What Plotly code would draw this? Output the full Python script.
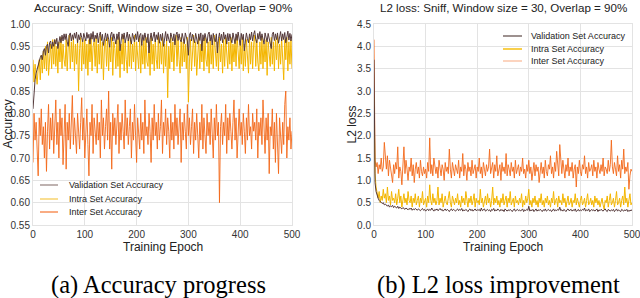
import plotly.graph_objects as go

epochs = list(range(0, 501, 2))

acc_validation = [
    0.81, 0.86, 0.875, 0.89, 0.90, 0.91, 0.915, 0.925, 0.93, 0.92, 0.94,
    0.945, 0.93, 0.95, 0.955, 0.935, 0.958, 0.962, 0.945, 0.96, 0.95,
    0.965, 0.955, 0.968, 0.945, 0.962, 0.972, 0.958, 0.975, 0.962, 0.978,
    0.965, 0.978, 0.96, 0.95, 0.975, 0.98, 0.962, 0.976, 0.965, 0.98,
    0.968, 0.982, 0.958, 0.976, 0.965, 0.98, 0.97, 0.96, 0.979, 0.966,
    0.962, 0.981, 0.968, 0.977, 0.955, 0.979, 0.966, 0.983, 0.96, 0.975,
    0.967, 0.98, 0.958, 0.974, 0.982, 0.963, 0.977, 0.952, 0.972, 0.98,
    0.962, 0.978, 0.966, 0.948, 0.976, 0.982, 0.962, 0.978, 0.966, 0.955,
    0.978, 0.965, 0.982, 0.94, 0.962, 0.978, 0.966, 0.98, 0.958, 0.975,
    0.982, 0.962, 0.977, 0.966, 0.955, 0.979, 0.968, 0.96, 0.978, 0.965,
    0.983, 0.96, 0.975, 0.979, 0.952, 0.976, 0.963, 0.98, 0.967, 0.958,
    0.978, 0.935, 0.966, 0.98, 0.962, 0.977, 0.982, 0.96, 0.976, 0.965,
    0.981, 0.957, 0.977, 0.963, 0.979, 0.95, 0.975, 0.983, 0.962, 0.978,
    0.966, 0.958, 0.98, 0.967, 0.962, 0.978, 0.953, 0.976, 0.982, 0.963,
    0.978, 0.965, 0.96, 0.979, 0.967, 0.956, 0.98, 0.966, 0.962, 0.93,
    0.975, 0.981, 0.962, 0.977, 0.966, 0.958, 0.979, 0.967, 0.955, 0.978,
    0.963, 0.98, 0.94, 0.976, 0.962, 0.979, 0.966, 0.957, 0.977, 0.982,
    0.962, 0.976, 0.953, 0.979, 0.966, 0.96, 0.978, 0.935, 0.967, 0.98,
    0.963, 0.977, 0.958, 0.982, 0.966, 0.976, 0.955, 0.979, 0.962, 0.978,
    0.966, 0.958, 0.98, 0.967, 0.956, 0.978, 0.963, 0.982, 0.968, 0.952,
    0.979, 0.965, 0.977, 0.94, 0.962, 0.98, 0.967, 0.958, 0.978, 0.965,
    0.982, 0.962, 0.977, 0.985, 0.965, 0.958, 0.979, 0.966, 0.983, 0.963,
    0.978, 0.965, 0.955, 0.98, 0.968, 0.96, 0.979, 0.966, 0.958, 0.945,
    0.977, 0.982, 0.963, 0.978, 0.965, 0.98, 0.957, 0.976, 0.983, 0.962,
    0.978, 0.965, 0.981, 0.958, 0.976, 0.984, 0.964, 0.979, 0.962, 0.977,
]

acc_intra = [
    0.92, 0.87, 0.91, 0.885, 0.865, 0.90, 0.92, 0.875, 0.93, 0.89, 0.94,
    0.90, 0.95, 0.895, 0.96, 0.885, 0.94, 0.955, 0.90, 0.965, 0.91,
    0.965, 0.905, 0.95, 0.89, 0.96, 0.915, 0.97, 0.90, 0.955, 0.92,
    0.905, 0.965, 0.895, 0.95, 0.975, 0.90, 0.96, 0.915, 0.97, 0.895,
    0.955, 0.91, 0.965, 0.85, 0.945, 0.97, 0.895, 0.96, 0.91, 0.965,
    0.90, 0.955, 0.885, 0.965, 0.915, 0.97, 0.895, 0.95, 0.96, 0.905,
    0.97, 0.89, 0.955, 0.91, 0.975, 0.90, 0.96, 0.875, 0.95, 0.965,
    0.905, 0.97, 0.895, 0.955, 0.915, 0.97, 0.885, 0.96, 0.945, 0.90,
    0.965, 0.905, 0.97, 0.88, 0.955, 0.91, 0.975, 0.895, 0.96, 0.92,
    0.89, 0.965, 0.905, 0.97, 0.90, 0.955, 0.915, 0.975, 0.895, 0.96,
    0.925, 0.90, 0.97, 0.89, 0.955, 0.91, 0.965, 0.90, 0.97, 0.915,
    0.905, 0.96, 0.885, 0.97, 0.91, 0.955, 0.895, 0.965, 0.92, 0.90,
    0.975, 0.90, 0.96, 0.91, 0.97, 0.89, 0.955, 0.905, 0.965, 0.835,
    0.95, 0.90, 0.97, 0.915, 0.96, 0.895, 0.955, 0.975, 0.905, 0.965,
    0.92, 0.89, 0.97, 0.905, 0.96, 0.915, 0.955, 0.90, 0.97, 0.825,
    0.915, 0.965, 0.895, 0.955, 0.975, 0.905, 0.96, 0.885, 0.95, 0.97,
    0.90, 0.955, 0.915, 0.965, 0.895, 0.97, 0.92, 0.905, 0.96, 0.89,
    0.965, 0.91, 0.955, 0.90, 0.975, 0.92, 0.905, 0.96, 0.895, 0.97,
    0.915, 0.955, 0.89, 0.965, 0.905, 0.97, 0.92, 0.90, 0.96, 0.91,
    0.97, 0.895, 0.955, 0.915, 0.965, 0.905, 0.975, 0.92, 0.90, 0.96,
    0.91, 0.97, 0.895, 0.955, 0.905, 0.965, 0.92, 0.89, 0.97, 0.91,
    0.96, 0.90, 0.955, 0.975, 0.905, 0.965, 0.915, 0.895, 0.96, 0.91,
    0.97, 0.90, 0.955, 0.915, 0.965, 0.885, 0.96, 0.92, 0.905, 0.97,
    0.91, 0.96, 0.895, 0.965, 0.92, 0.975, 0.90, 0.955, 0.91, 0.97,
    0.905, 0.875, 0.965, 0.92, 0.97, 0.895, 0.96, 0.91, 0.965, 0.90,
]

acc_inter = [
    0.69, 0.80, 0.74, 0.78, 0.72, 0.66, 0.79, 0.75, 0.81, 0.73, 0.77,
    0.70, 0.78, 0.67, 0.76, 0.82, 0.72, 0.79, 0.74, 0.80, 0.71,
    0.77, 0.83, 0.73, 0.78, 0.70, 0.81, 0.75, 0.79, 0.685, 0.76,
    0.82, 0.675, 0.78, 0.74, 0.80, 0.72, 0.77, 0.84, 0.73, 0.79,
    0.75, 0.71, 0.80, 0.76, 0.72, 0.78, 0.835, 0.74, 0.79, 0.70,
    0.77, 0.81, 0.73, 0.66, 0.78, 0.75, 0.82, 0.71, 0.79, 0.76,
    0.73, 0.80, 0.74, 0.78, 0.70, 0.83, 0.75, 0.79, 0.72, 0.77,
    0.81, 0.74, 0.85, 0.72, 0.78, 0.675, 0.80, 0.75, 0.79, 0.73,
    0.77, 0.82, 0.71, 0.78, 0.74, 0.80, 0.76, 0.72, 0.83, 0.75,
    0.79, 0.73, 0.77, 0.81, 0.70, 0.78, 0.74, 0.82, 0.75, 0.69,
    0.79, 0.76, 0.72, 0.80, 0.74, 0.78, 0.71, 0.83, 0.75, 0.77,
    0.73, 0.80, 0.76, 0.69, 0.79, 0.74, 0.82, 0.75, 0.78, 0.72,
    0.80, 0.74, 0.77, 0.83, 0.71, 0.78, 0.75, 0.81, 0.73, 0.79,
    0.76, 0.70, 0.80, 0.74, 0.78, 0.72, 0.82, 0.75, 0.79, 0.73,
    0.77, 0.81, 0.69, 0.78, 0.74, 0.80, 0.76, 0.72, 0.82, 0.75,
    0.79, 0.73, 0.77, 0.81, 0.71, 0.78, 0.74, 0.80, 0.75, 0.70,
    0.78, 0.74, 0.82, 0.72, 0.79, 0.76, 0.71, 0.80, 0.75, 0.78,
    0.73, 0.81, 0.76, 0.70, 0.79, 0.74, 0.82, 0.75, 0.78, 0.60,
    0.77, 0.80, 0.73, 0.78, 0.75, 0.82, 0.71, 0.79, 0.74, 0.80,
    0.76, 0.72, 0.78, 0.83, 0.74, 0.79, 0.70, 0.77, 0.81, 0.75,
    0.78, 0.73, 0.80, 0.76, 0.71, 0.79, 0.74, 0.82, 0.75, 0.77,
    0.72, 0.80, 0.76, 0.78, 0.74, 0.81, 0.70, 0.78, 0.75, 0.79,
    0.73, 0.83, 0.76, 0.71, 0.79, 0.74, 0.80, 0.665, 0.77, 0.75,
    0.81, 0.72, 0.78, 0.69, 0.80, 0.74, 0.665, 0.79, 0.75, 0.71,
    0.78, 0.73, 0.82, 0.85, 0.70, 0.77, 0.74, 0.79, 0.72, 0.76,
]

loss_validation = [
    3.70, 0.95, 0.75, 0.65, 0.60, 0.55, 0.52, 0.50, 0.48, 0.50, 0.45,
    0.47, 0.44, 0.42, 0.45, 0.40, 0.43, 0.41, 0.44, 0.39, 0.42,
    0.40, 0.38, 0.42, 0.37, 0.40, 0.38, 0.36, 0.39, 0.37, 0.35,
    0.38, 0.36, 0.34, 0.37, 0.35, 0.38, 0.33, 0.36, 0.34, 0.37,
    0.35, 0.33, 0.36, 0.34, 0.32, 0.35, 0.37, 0.33, 0.35, 0.31,
    0.34, 0.36, 0.32, 0.35, 0.33, 0.38, 0.34, 0.31, 0.35, 0.33,
    0.36, 0.32, 0.34, 0.37, 0.33, 0.35, 0.31, 0.34, 0.36, 0.32,
    0.35, 0.33, 0.30, 0.34, 0.36, 0.32, 0.35, 0.33, 0.31, 0.34,
    0.36, 0.32, 0.35, 0.33, 0.37, 0.31, 0.34, 0.32, 0.35, 0.33,
    0.30, 0.34, 0.36, 0.32, 0.35, 0.31, 0.33, 0.36, 0.32, 0.34,
    0.33, 0.35, 0.31, 0.38, 0.32, 0.34, 0.36, 0.31, 0.33, 0.35,
    0.32, 0.34, 0.30, 0.35, 0.33, 0.37, 0.31, 0.34, 0.32, 0.36,
    0.33, 0.31, 0.35, 0.32, 0.34, 0.30, 0.36, 0.33, 0.31, 0.34,
    0.32, 0.35, 0.33, 0.30, 0.34, 0.36, 0.31, 0.33, 0.35, 0.32,
    0.34, 0.31, 0.33, 0.36, 0.30, 0.34, 0.32, 0.35, 0.33, 0.42,
    0.31, 0.34, 0.32, 0.35, 0.30, 0.33, 0.36, 0.31, 0.34, 0.32,
    0.35, 0.33, 0.30, 0.34, 0.32, 0.36, 0.31, 0.33, 0.35, 0.32,
    0.34, 0.30, 0.33, 0.36, 0.31, 0.34, 0.32, 0.35, 0.33, 0.40,
    0.32, 0.34, 0.31, 0.35, 0.33, 0.30, 0.34, 0.36, 0.32, 0.33,
    0.35, 0.31, 0.34, 0.32, 0.36, 0.30, 0.33, 0.35, 0.31, 0.34,
    0.32, 0.35, 0.33, 0.38, 0.31, 0.34, 0.32, 0.36, 0.30, 0.33,
    0.35, 0.32, 0.34, 0.31, 0.33, 0.36, 0.30, 0.34, 0.32, 0.35,
    0.33, 0.31, 0.34, 0.36, 0.32, 0.30, 0.35, 0.33, 0.31, 0.34,
    0.32, 0.35, 0.30, 0.33, 0.36, 0.31, 0.34, 0.32, 0.30, 0.35,
    0.33, 0.31, 0.34, 0.32, 0.35, 0.30, 0.33, 0.31, 0.34, 0.32,
]

loss_intra = [
    2.85, 1.15, 0.85, 0.70, 0.60, 0.75, 0.50, 0.65, 0.55, 0.80, 0.60,
    0.70, 0.50, 0.85, 0.55, 0.65, 0.45, 0.75, 0.55, 0.60, 0.50,
    0.70, 0.45, 0.60, 0.80, 0.50, 0.65, 0.40, 0.55, 0.70, 0.50,
    0.60, 0.45, 0.75, 0.55, 0.50, 0.65, 0.40, 0.60, 0.50, 0.70,
    0.45, 0.55, 0.65, 0.40, 0.60, 0.50, 0.75, 0.45, 0.55, 0.60,
    0.40, 0.65, 0.50, 0.90, 0.55, 0.45, 0.70, 0.50, 0.60, 0.45,
    0.55, 0.85, 0.45, 0.60, 0.50, 0.70, 0.40, 0.55, 0.65, 0.50,
    0.45, 0.60, 0.75, 0.50, 0.40, 0.65, 0.55, 0.45, 0.60, 0.50,
    0.70, 0.45, 0.55, 0.40, 0.65, 0.50, 0.60, 0.45, 0.75, 0.55,
    0.40, 0.60, 0.50, 0.65, 0.45, 0.55, 0.70, 0.40, 0.60, 0.50,
    0.55, 0.45, 0.80, 0.50, 0.60, 0.40, 0.55, 0.65, 0.45, 0.70,
    0.50, 0.60, 0.40, 0.55, 0.85, 0.45, 0.60, 0.50, 0.65, 0.45,
    0.55, 0.40, 0.60, 0.50, 0.70, 0.45, 0.55, 0.65, 0.40, 0.60,
    0.50, 0.75, 0.45, 0.55, 0.60, 0.40, 0.65, 0.50, 0.55, 0.45,
    0.60, 0.50, 0.70, 0.40, 0.55, 0.45, 0.65, 0.50, 0.60, 0.80,
    0.45, 0.55, 0.40, 0.60, 0.50, 0.65, 0.45, 0.55, 0.40, 0.60,
    0.50, 0.70, 0.45, 0.55, 0.40, 0.60, 0.50, 0.65, 0.45, 0.55,
    0.40, 0.60, 0.50, 0.75, 0.45, 0.55, 0.60, 0.40, 0.65, 0.50,
    0.55, 0.45, 0.70, 0.50, 0.60, 0.40, 0.55, 0.65, 0.45, 0.50,
    0.60, 0.40, 0.55, 0.50, 0.70, 0.45, 0.60, 0.50, 0.40, 0.55,
    0.65, 0.45, 0.50, 0.60, 0.40, 0.55, 0.70, 0.45, 0.50, 0.60,
    0.45, 0.55, 0.40, 0.65, 0.50, 0.60, 0.45, 0.55, 0.40, 0.50,
    0.60, 0.45, 0.35, 0.55, 0.50, 0.65, 0.40, 0.55, 0.70, 0.45,
    0.50, 0.60, 0.40, 0.55, 0.75, 0.45, 0.50, 0.60, 0.40, 0.55,
    0.65, 0.45, 0.85, 0.50, 0.60, 0.40, 0.55, 0.70, 0.45, 0.50,
]

loss_inter = [
    4.15, 1.45, 1.30, 1.40, 1.15, 1.35, 1.25, 1.50, 1.20, 1.30, 1.85,
    1.40, 1.25, 1.55, 1.10, 1.45, 1.30, 1.20, 0.95, 1.35, 1.15,
    1.40, 1.25, 1.75, 1.05, 1.30, 1.20, 0.90, 1.35, 1.75, 1.15,
    1.45, 1.25, 1.00, 1.30, 1.20, 1.50, 1.10, 1.35, 0.95, 1.25,
    1.40, 1.15, 1.30, 1.05, 1.45, 1.20, 1.10, 1.30, 1.15, 1.25,
    1.05, 1.40, 1.20, 1.95, 1.15, 1.35, 1.10, 1.50, 1.25, 1.15,
    1.30, 1.05, 1.45, 1.20, 1.10, 1.35, 1.25, 1.00, 1.40, 1.20,
    1.30, 1.15, 1.70, 1.25, 1.05, 1.40, 1.20, 1.10, 1.35, 1.25,
    1.15, 1.45, 1.05, 1.30, 1.20, 1.60, 1.10, 1.35, 1.25, 1.00,
    1.40, 1.20, 1.30, 1.10, 1.45, 1.15, 1.25, 1.35, 1.05, 1.30,
    1.20, 1.50, 1.15, 1.30, 1.05, 1.40, 1.25, 1.10, 1.35, 1.20,
    1.30, 1.70, 1.15, 1.25, 1.40, 1.05, 1.35, 1.20, 1.55, 1.10,
    1.25, 1.35, 1.00, 1.40, 1.20, 1.30, 1.15, 1.60, 1.10, 1.35,
    1.25, 1.10, 1.40, 1.20, 1.30, 1.05, 1.45, 1.15, 1.25, 1.35,
    1.10, 1.30, 1.20, 1.50, 1.15, 1.25, 1.05, 1.35, 1.20, 1.45,
    1.15, 1.30, 1.00, 1.25, 1.40, 1.10, 1.35, 1.20, 1.30, 0.95,
    1.25, 1.40, 1.15, 1.30, 1.05, 1.45, 1.20, 1.10, 1.35, 1.25,
    1.55, 1.15, 1.30, 1.05, 1.40, 1.20, 1.65, 1.25, 1.10, 1.80,
    1.30, 1.15, 1.45, 1.25, 1.05, 1.35, 1.20, 1.50, 1.10, 1.30,
    1.20, 1.40, 1.05, 1.25, 1.35, 0.85, 1.30, 1.15, 1.45, 1.20,
    1.10, 1.35, 1.25, 1.55, 1.15, 1.30, 1.05, 1.40, 1.20, 1.25,
    1.35, 1.10, 1.45, 1.20, 1.30, 1.05, 1.40, 1.25, 1.15, 1.35,
    1.20, 1.50, 1.10, 1.30, 1.25, 1.15, 1.45, 1.20, 1.35, 1.90,
    1.30, 1.15, 1.40, 1.25, 1.10, 1.55, 1.20, 1.35, 1.05, 1.45,
    1.25, 1.70, 1.15, 1.30, 1.20, 1.40, 0.80, 1.10, 1.25, 1.20,
]

series_names = ["Validation Set Accuracy", "Intra Set Accuracy", "Inter Set Accuracy"]
x_ticks = [0, 100, 200, 300, 400, 500]
acc_ticks = [0.55, 0.60, 0.65, 0.70, 0.75, 0.80, 0.85, 0.90, 0.95, 1.00]
loss_ticks = [0.0, 0.5, 1.0, 1.5, 2.0, 2.5, 3.0, 3.5, 4.0, 4.5]
titles = ["Accuracy: Sniff, Window size = 30, Overlap = 90%",
          "L2 loss: Sniff, Window size = 30, Overlap = 90%"]
y_titles = ["Accuracy", "L2 loss"]
x_title = "Training Epoch"
captions = ["(a) Accuracy progress", "(b) L2 loss improvement"]

C_VAL = "#55393a"
C_INTRA = "#f4b600"
C_INTER = "rgba(243,104,26,0.9)"

fig = go.Figure()

fig.add_trace(go.Scatter(x=epochs, y=acc_inter, mode="lines", line=dict(color=C_INTER, width=1),
                         xaxis="x", yaxis="y", showlegend=False))
fig.add_trace(go.Scatter(x=epochs, y=acc_intra, mode="lines", line=dict(color=C_INTRA, width=1),
                         xaxis="x", yaxis="y", showlegend=False))
fig.add_trace(go.Scatter(x=epochs, y=acc_validation, mode="lines", line=dict(color=C_VAL, width=1),
                         xaxis="x", yaxis="y", showlegend=False))
fig.add_trace(go.Scatter(x=epochs, y=loss_inter, mode="lines", line=dict(color=C_INTER, width=1),
                         xaxis="x2", yaxis="y2", showlegend=False))
fig.add_trace(go.Scatter(x=epochs, y=loss_intra, mode="lines", line=dict(color=C_INTRA, width=1),
                         xaxis="x2", yaxis="y2", showlegend=False))
fig.add_trace(go.Scatter(x=epochs, y=loss_validation, mode="lines", line=dict(color=C_VAL, width=1),
                         xaxis="x2", yaxis="y2", showlegend=False))

W, H = 640, 298
dom_x1 = [33 / W, 292 / W]
dom_x2 = [374 / W, 632 / W]
dom_y = [(H - 225) / H, (H - 24) / H]

SANS = "Liberation Sans, Arial, sans-serif"
grid = "#e3e3e3"
tickfont = dict(family=SANS, size=10, color="#333333")

def xax(anchor, dom):
    return dict(domain=dom, anchor=anchor, range=[0, 500], tickvals=x_ticks,
                showgrid=True, gridcolor=grid, gridwidth=1, zeroline=False,
                showline=True, linecolor=grid, mirror=True, ticks="",
                tickfont=tickfont, automargin=False, ticklabeloverflow="allow")

def yax(anchor, rng, tv, fmt):
    return dict(domain=dom_y, anchor=anchor, range=rng, tickvals=tv, tickformat=fmt,
                showgrid=True, gridcolor=grid, gridwidth=1, zeroline=False,
                showline=True, linecolor=grid, mirror=True, ticks="",
                tickfont=tickfont, automargin=False, ticklabeloverflow="allow")

fig.update_layout(
    width=W, height=H,
    margin=dict(l=0, r=0, t=0, b=0),
    paper_bgcolor="white", plot_bgcolor="white",
    showlegend=False,
    xaxis=xax("y", dom_x1),
    yaxis=yax("x", [0.55, 1.0], acc_ticks, ".2f"),
    xaxis2=xax("y2", dom_x2),
    yaxis2=yax("x2", [0.0, 4.5], loss_ticks, ".1f"),
)

annotations = []
shapes = []
ycen = 1 - 124.5 / H
for i, dom in enumerate([dom_x1, dom_x2]):
    annotations.append(dict(text=titles[i], xref="paper", yref="paper",
                            x=(dom[0] + dom[1]) / 2, y=1 - 7.5 / H, xanchor="center", yanchor="middle",
                            showarrow=False, font=dict(family=SANS, size=11.6, color="#222222")))
    annotations.append(dict(text=x_title, xref="paper", yref="paper",
                            x=(dom[0] + dom[1]) / 2, y=1 - 246.5 / H, xanchor="center", yanchor="middle",
                            showarrow=False, font=dict(family=SANS, size=12, color="#222222")))
ytx = [7 / W, 351 / W]
for i in range(2):
    annotations.append(dict(text=y_titles[i], xref="paper", yref="paper", textangle=-90,
                            x=ytx[i], y=ycen, xanchor="center", yanchor="middle",
                            showarrow=False, font=dict(family=SANS, size=12, color="#222222")))

cap_x = [158 / W, 498 / W]
for i in range(2):
    annotations.append(dict(text=captions[i], xref="paper", yref="paper",
                            x=cap_x[i], y=1 - 285 / H, xanchor="center", yanchor="middle",
                            showarrow=False, font=dict(family="Liberation Serif, Times New Roman, serif", size=24.5, color="#000000")))

leg_left_colors = ["#a89896", "#f7d36e", "#f7915a"]
leg_right_colors = ["#7d6c6a", "#f6bf10", "#fbc6aa"]
leg_specs = [
    (40, 58, 67, [185, 199, 212], leg_left_colors),
    (503, 522, 529, [36, 49, 61], leg_right_colors),
]
for x0, x1, xt, ys, cols in leg_specs:
    for name, yy, col in zip(series_names, ys, cols):
        shapes.append(dict(type="line", xref="paper", yref="paper",
                           x0=x0 / W, x1=x1 / W, y0=1 - yy / H, y1=1 - yy / H,
                           line=dict(color=col, width=1.5)))
        annotations.append(dict(text=name, xref="paper", yref="paper", x=xt / W, y=1 - yy / H,
                                xanchor="left", yanchor="middle", showarrow=False,
                                font=dict(family=SANS, size=9, color="#222222")))

fig.update_layout(annotations=annotations, shapes=shapes)

fig.write_html("out.html", config={"displayModeBar": False},
               post_script="document.body.style.margin='0';document.body.style.padding='0';document.body.style.overflow='hidden';")
